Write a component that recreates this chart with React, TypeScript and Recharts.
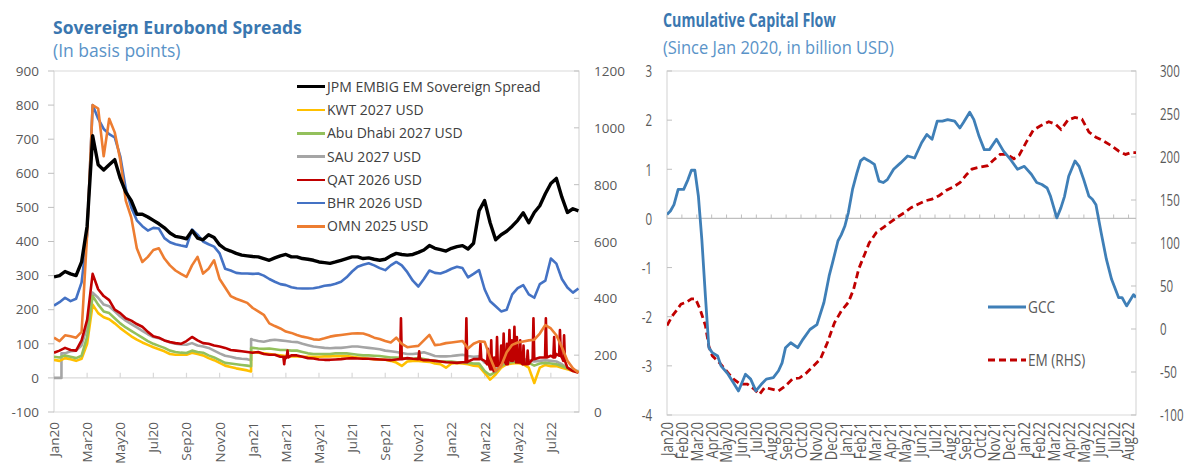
import React from 'react';
import { LineChart, Line, XAxis, YAxis, ReferenceLine, ReferenceArea, Legend } from 'recharts';

const FONT = '"Open Sans", "Noto Sans", sans-serif';
const FRAME = '#d9d9d9';
const TICKLINE = '#bfbfbf';
const TEXT_GREY = '#595959';
const TITLE_BLUE = '#3a77b0';
const SUB_BLUE = '#5a93c8';

// ---------------- Left panel: Sovereign Eurobond Spreads ----------------
// x = months since 1 Jan 2020, values sampled every third of a month (index / 3)
const spreadTickMonths = [0, 2, 4, 6, 8, 10, 12, 14, 16, 18, 20, 22, 24, 26, 28, 30];
const spreadTickLabels = ['Jan20', 'Mar20', 'May20', 'Jul20', 'Sep20', 'Nov20', 'Jan21', 'Mar21', 'May21', 'Jul21', 'Sep21', 'Nov21', 'Jan22', 'Mar22', 'May22', 'Jul22'];
const spreadLeftTicks = [-100, 0, 100, 200, 300, 400, 500, 600, 700, 800, 900];
const spreadRightTicks = [0, 200, 400, 600, 800, 1000, 1200];

const jpmEmbig = [
  296, 300, 312, 305, 300, 340, 445, 710, 625, 610,
  625, 640, 585, 545, 520, 480, 480, 472, 462, 452,
  440, 425, 415, 412, 408, 432, 410, 405, 420, 412,
  390, 378, 372, 365, 360, 358, 356, 355, 350, 345,
  352, 358, 362, 355, 355, 350, 348, 345, 340, 338,
  336, 340, 345, 350, 355, 355, 350, 352, 348, 345,
  348, 358, 365, 362, 360, 362, 368, 375, 388, 380,
  376, 372, 380, 385, 388, 378, 395, 490, 520, 455,
  405, 420, 430, 445, 462, 484, 455, 485, 505, 540,
  570, 585, 530, 485, 496, 490,
];
const bhr2026 = [
  212, 222, 235, 225, 232, 280, 420, 800, 760, 730,
  715, 705, 650, 555, 500, 462, 445, 432, 440, 438,
  410, 398, 392, 388, 385, 435, 420, 400, 392, 385,
  365, 320, 315, 308, 306, 306, 305, 306, 300, 290,
  282, 275, 272, 266, 263, 262, 262, 263, 266, 270,
  272, 276, 282, 295, 312, 326, 332, 336, 330, 322,
  316, 330, 340, 330, 310, 285, 268, 290, 315, 308,
  306, 312, 320, 326, 322, 295, 305, 316, 260, 225,
  210, 195, 200, 245, 263, 272, 245, 235, 275, 285,
  350, 335, 290, 265, 250, 262,
];
const omn2025 = [
  118, 108, 125, 122, 118, 135, 420, 800, 790, 650,
  760, 720, 640, 520, 470, 380, 340, 355, 375, 380,
  350, 330, 315, 305, 296, 330, 355, 306, 320, 345,
  290, 265, 240, 232, 226, 220, 205, 195, 185, 160,
  152, 145, 136, 132, 126, 121, 118, 113, 112, 116,
  121, 124, 126, 128, 130, 131, 130, 125, 118, 114,
  108, 104, 118, 100, 90, 92, 94, 110, 126, 96,
  98, 102, 104, 106, 108, 86, 100, 107, 106, 60,
  20, 35, 75, 97, 104, 107, 110, 112, 130, 155,
  145, 125, 90, 50, 28, 15,
];
const qat2026 = [
  74, 80, 88, 82, 80, 110, 170, 305, 260, 240,
  228, 200, 190, 175, 168, 158, 150, 135, 122, 118,
  110, 105, 102, 100, 108, 120, 110, 102, 100, 95,
  92, 88, 82, 80, 78, 76, 74, 76, 70, 68,
  68, 62, 58, 66, 66, 62, 58, 57, 54, 53,
  53, 54, 55, 57, 58, 57, 56, 56, 55, 54,
  53, 52, 54, 55, 58, 56, 62, 52, 52, 50,
  48, 46, 45, 44, 46, 48, 55, 70, 50, 40,
  45, 60, 70, 65, 60, 55, 50, 55, 60, 60,
  65, 70, 60, 30, 20, 15,
];
// [month, spike value, value just beside the spike]
const qatSpikes: [number, number, number][] = [
  [13.9, 40, 62], [14.1, 80, 60], [20.95, 175, 55], [22.05, 78, 55], [24.9, 175, 46],
  [25.75, 100, 55], [26.2, 85, 40], [26.4, 110, 25], [26.55, 20, 60], [26.75, 120, 35],
  [27.0, 95, 45], [27.15, 130, 50], [27.35, 100, 40], [27.5, 140, 55], [27.65, 110, 50],
  [27.8, 150, 60], [27.95, 120, 45], [28.15, 110, 45], [28.35, 95, 40], [28.6, 80, 40],
  [28.95, 175, 55], [29.7, 175, 60], [30.2, 120, 60], [30.55, 140, 65], [30.8, 125, 50],
];
const sau2027 = [
  0, 0, 72, 78, 80, 95, 150, 250, 235, 215,
  210, 195, 180, 168, 158, 148, 138, 128, 120, 116,
  110, 104, 100, 98, 97, 102, 95, 92, 88, 80,
  72, 65, 62, 58, 56, 55, 112, 108, 106, 110,
  112, 110, 108, 106, 105, 100, 96, 92, 90, 88,
  87, 88, 88, 90, 92, 92, 90, 88, 86, 84,
  80, 78, 76, 73, 70, 70, 72, 75, 70, 64,
  63, 63, 64, 66, 68, 64, 62, 63, 45, 40,
  25, 35, 50, 52, 54, 55, 52, 48, 50, 52,
  50, 48, 40, 30, 22, 20,
];
const sauJumps: [number, number, number][] = [[0.45, 0, 72], [11.9, 52, 114]];
const abuDhabi2027 = [
  62, 60, 66, 62, 58, 65, 120, 240, 215, 195,
  190, 175, 160, 148, 138, 128, 118, 108, 100, 94,
  88, 80, 76, 74, 73, 80, 76, 74, 66, 60,
  52, 44, 42, 40, 38, 36, 88, 86, 85, 86,
  84, 82, 82, 80, 80, 76, 72, 70, 70, 70,
  70, 72, 72, 72, 70, 68, 66, 66, 65, 64,
  62, 60, 60, 58, 56, 56, 58, 55, 52, 50,
  48, 48, 48, 46, 46, 44, 42, 42, 20, 8,
  18, 35, 44, 46, 48, 46, 44, 36, 42, 44,
  42, 40, 35, 28, 22, 18,
];
const abuDhabiJumps: [number, number, number][] = [[11.9, 34, 88]];
const kwt2027 = [
  53, 50, 58, 55, 50, 56, 100, 215, 190, 178,
  172, 160, 146, 134, 122, 112, 104, 97, 90, 84,
  78, 70, 68, 68, 68, 74, 70, 66, 58, 52,
  44, 36, 32, 28, 25, 22, 76, 74, 72, 70,
  68, 66, 64, 63, 63, 62, 62, 62, 62, 63,
  63, 64, 64, 64, 62, 60, 58, 56, 55, 54,
  53, 50, 45, 35, 48, 50, 50, 48, 47, 42,
  40, 30, 42, 44, 42, 40, 36, 34, 15, -5,
  10, 30, 40, 42, 44, 40, 30, -15, 30, 38,
  34, 35, 30, 25, 20, 18,
];
const kwtJumps: [number, number, number][] = [[11.9, 19, 76]];

type Pt = { x: number; v: number };

function dekadSeries(values: number[], jumps: [number, number, number][] = []): Pt[] {
  const pts: Pt[] = values.map((v, i) => ({ x: i / 3, v }));
  jumps.forEach(([m, before, after]) => {
    pts.push({ x: m, v: before }, { x: m + 0.001, v: after });
  });
  return pts.sort((a, b) => a.x - b.x);
}

function spikySeries(values: number[], spikes: [number, number, number][]): Pt[] {
  const base = values
    .map((v, i) => ({ x: i / 3, v }))
    .filter((p) => !spikes.some(([m]) => Math.abs(p.x - m) < 0.09));
  const extra = spikes.flatMap(([m, peak, side]) => [
    { x: m - 0.05, v: side },
    { x: m, v: peak },
    { x: m + 0.05, v: side },
  ]);
  return [...base, ...extra].sort((a, b) => a.x - b.x);
}

const spreadData: Record<string, Pt[]> = {
  jpm: dekadSeries(jpmEmbig),
  kwt: dekadSeries(kwt2027, kwtJumps),
  adh: dekadSeries(abuDhabi2027, abuDhabiJumps),
  sau: dekadSeries(sau2027, sauJumps),
  qat: spikySeries(qat2026, qatSpikes),
  bhr: dekadSeries(bhr2026),
  omn: dekadSeries(omn2025),
};

const spreadLegendOrder = [
  { key: 'jpm', name: 'JPM EMBIG EM Sovereign Spread', color: '#000000', width: 3.4 },
  { key: 'kwt', name: 'KWT 2027 USD', color: '#ffc000', width: 2.6 },
  { key: 'adh', name: 'Abu Dhabi 2027 USD', color: '#93c05c', width: 2.6 },
  { key: 'sau', name: 'SAU 2027 USD', color: '#a5a5a5', width: 2.6 },
  { key: 'qat', name: 'QAT 2026 USD', color: '#c00000', width: 2.6 },
  { key: 'bhr', name: 'BHR 2026 USD', color: '#4472c4', width: 2.6 },
  { key: 'omn', name: 'OMN 2025 USD', color: '#ed7d31', width: 2.6 },
];
const spreadDrawOrder = ['sau', 'kwt', 'adh', 'qat', 'bhr', 'omn', 'jpm'];

// ---------------- Right panel: Cumulative Capital Flow ----------------
const flowTickMonths = Array.from({ length: 32 }, (_, i) => i);
const flowTickLabels = [
  'Jan20', 'Feb20', 'Mar20', 'Apr20', 'May20', 'Jun20', 'Jul20', 'Aug20', 'Sep20', 'Oct20', 'Nov20', 'Dec20',
  'Jan21', 'Feb21', 'Mar21', 'Apr21', 'May21', 'Jun21', 'Jul21', 'Aug21', 'Sep21', 'Oct21', 'Nov21', 'Dec21',
  'Jan22', 'Feb22', 'Mar22', 'Apr22', 'May22', 'Jun22', 'Jul22', 'Aug22',
];
const gccTicks = [-4, -3, -2, -1, 0, 1, 2, 3];
const emTicks = [-100, -50, 0, 50, 100, 150, 200, 250, 300];

// [month since Jan 2020, cumulative flow]
const gccFlow: [number, number][] = [
  [0, 0.08], [0.23, 0.15], [0.47, 0.28], [0.75, 0.59], [1.12, 0.59], [1.41, 0.79], [1.64, 0.98], [1.87, 0.98],
  [2.11, 0.45], [2.34, -0.43], [2.58, -1.58], [2.81, -2.63], [3.04, -2.73], [3.4, -2.8], [3.63, -3.0], [4.1, -3.17],
  [4.45, -3.34], [4.8, -3.51], [5.04, -3.34], [5.27, -3.17], [5.62, -3.27], [5.97, -3.51], [6.32, -3.38], [6.67, -3.27],
  [7.14, -3.24], [7.49, -3.1], [7.73, -2.94], [7.96, -2.63], [8.31, -2.53], [8.78, -2.63], [9.13, -2.46], [9.6, -2.26],
  [10.07, -2.16], [10.54, -1.71], [10.89, -1.17], [11.12, -0.9], [11.48, -0.46], [11.71, -0.33], [11.94, -0.16], [12.18, 0.12],
  [12.46, 0.59], [12.76, 0.93], [13.0, 1.17], [13.23, 1.23], [13.58, 1.17], [13.93, 1.1], [14.24, 0.76], [14.52, 0.73],
  [14.8, 0.79], [15.22, 1.0], [15.69, 1.13], [16.16, 1.27], [16.63, 1.23], [17.1, 1.54], [17.45, 1.71], [17.8, 1.61],
  [18.15, 1.98], [18.5, 1.98], [18.85, 2.01], [19.32, 1.98], [19.67, 1.84], [19.91, 1.95], [20.33, 2.16], [20.61, 2.01],
  [20.96, 1.67], [21.31, 1.4], [21.66, 1.4], [22.13, 1.61], [22.6, 1.37], [23.07, 1.2], [23.54, 1.0], [24.0, 1.06],
  [24.47, 0.9], [24.83, 0.73], [25.18, 0.69], [25.53, 0.62], [25.76, 0.45], [26.18, 0.01], [26.46, 0.22], [26.7, 0.45],
  [26.98, 0.86], [27.4, 1.17], [27.68, 1.06], [27.99, 0.79], [28.34, 0.45], [28.57, 0.39], [28.81, 0.28], [29.16, -0.29],
  [29.51, -0.83], [29.86, -1.24], [30.33, -1.61], [30.56, -1.61], [30.87, -1.78], [31.34, -1.55], [31.5, -1.61],
];
const emFlow: [number, number][] = [
  [0, 4], [0.35, 15], [0.7, 23], [0.94, 29], [1.29, 31], [1.64, 35], [1.92, 35], [2.22, 23],
  [2.58, 4], [2.81, -20], [3.04, -31], [3.51, -39], [4.1, -51], [4.45, -58], [4.92, -64], [5.39, -64],
  [5.86, -70], [6.21, -76], [6.56, -68], [7.03, -70], [7.49, -72], [7.96, -66], [8.43, -58], [8.9, -57],
  [9.37, -51], [9.84, -43], [10.3, -35], [10.77, -16], [11.24, 7], [11.71, 21], [12.18, 31], [12.53, 46],
  [12.88, 70], [13.23, 85], [13.58, 100], [14.05, 112], [14.52, 118], [14.99, 124], [15.46, 130], [15.93, 135],
  [16.39, 141], [16.86, 145], [17.33, 149], [17.8, 151], [18.27, 155], [18.74, 161], [19.2, 165], [19.67, 170],
  [20.14, 180], [20.49, 186], [20.96, 188], [21.55, 190], [21.9, 196], [22.37, 203], [22.83, 203], [23.3, 198],
  [23.65, 202], [24.12, 217], [24.59, 231], [25.06, 236], [25.64, 241], [26.11, 238], [26.46, 232], [26.93, 243],
  [27.4, 246], [27.87, 244], [28.34, 229], [28.81, 223], [29.28, 219], [29.86, 213], [30.33, 207], [30.8, 203],
  [31.15, 205], [31.5, 205],
];
const gccData: Pt[] = gccFlow.map(([x, v]) => ({ x, v }));
const emData: Pt[] = emFlow.map(([x, v]) => ({ x, v }));

// ---------------- tick components ----------------
const rotatedTick = (labels: string[], months: number[], fontSize: number, sx: number) => (props: any) => {
  const { x, y, payload } = props;
  const label = labels[months.indexOf(payload.value)] ?? '';
  return (
    <text
      transform={`translate(${x},${y}) rotate(-90) scale(${sx},1)`}
      textAnchor="end"
      dominantBaseline="central"
      fontSize={fontSize}
      fill={TEXT_GREY}
      fontFamily={FONT}
    >
      {label}
    </text>
  );
};

const insideYTick = (side: 'left' | 'right', margin: number, len: number, fontSize: number, sx: number) => (props: any) => {
  const { x, y, payload } = props;
  const axisX = side === 'left' ? x + margin : x - margin;
  const inner = side === 'left' ? axisX + len : axisX - len;
  return (
    <g>
      <line x1={axisX} x2={inner} y1={y} y2={y} stroke={TICKLINE} />
      <text
        transform={`translate(${x},${y}) scale(${sx},1)`}
        textAnchor={side === 'left' ? 'end' : 'start'}
        dominantBaseline="central"
        fontSize={fontSize}
        fill={TEXT_GREY}
        fontFamily={FONT}
      >
        {String(payload.value)}
      </text>
    </g>
  );
};

const spreadLegend = () => (
  <div style={{ fontFamily: FONT, fontSize: 14, color: '#404040', lineHeight: '18px' }}>
    {spreadLegendOrder.map((s) => (
      <div key={s.key} style={{ display: 'flex', alignItems: 'center', height: 23.3, whiteSpace: 'nowrap' }}>
        <span style={{ display: 'inline-block', width: 28, height: s.width, background: s.color, marginRight: 2 }} />
        <span>{s.name}</span>
      </div>
    ))}
  </div>
);

const flowLegend = () => (
  <div style={{ fontFamily: FONT, fontSize: 16, color: '#595959', lineHeight: '20px' }}>
    <div style={{ display: 'flex', alignItems: 'center', height: 22, whiteSpace: 'nowrap' }}>
      <svg width={38} height={6} style={{ marginRight: 2 }}>
        <line x1={0} x2={38} y1={3} y2={3} stroke="#3f7fb7" strokeWidth={2.8} />
      </svg>
      <span style={{ display: 'inline-block', transform: 'scaleX(0.85)', transformOrigin: '0 50%' }}>GCC</span>
    </div>
    <div style={{ display: 'flex', alignItems: 'center', height: 22, marginTop: 31, whiteSpace: 'nowrap' }}>
      <svg width={38} height={6} style={{ marginRight: 2 }}>
        <line x1={0} x2={38} y1={3} y2={3} stroke="#c00000" strokeWidth={2.8} strokeDasharray="7 4" />
      </svg>
      <span style={{ display: 'inline-block', transform: 'scaleX(0.85)', transformOrigin: '0 50%' }}>EM (RHS)</span>
    </div>
  </div>
);

const SPREAD_XMAX = 31.7;
const FLOW_XMAX = 31.5;

function SpreadChart() {
  const byKey: Record<string, (typeof spreadLegendOrder)[number]> = {};
  spreadLegendOrder.forEach((s) => (byKey[s.key] = s));
  return (
    <LineChart width={630} height={468} margin={{ top: 71, right: 0, bottom: 0, left: 0 }}>
      <XAxis
        type="number"
        dataKey="x"
        domain={[0, SPREAD_XMAX]}
        ticks={spreadTickMonths}
        interval={0}
        allowDataOverflow
        height={56}
        axisLine={false}
        tickLine={false}
        tickSize={0}
        tickMargin={10}
        tick={rotatedTick(spreadTickLabels, spreadTickMonths, 13.5, 1)}
      />
      <YAxis
        yAxisId="l"
        domain={[-100, 900]}
        ticks={spreadLeftTicks}
        interval={0}
        allowDataOverflow
        width={54}
        axisLine={false}
        tickSize={6}
        tickMargin={9}
        tickLine={{ stroke: TICKLINE }}
        tick={{ fill: TEXT_GREY, fontSize: 13.5, fontFamily: FONT }}
      />
      <YAxis
        yAxisId="r"
        orientation="right"
        domain={[0, 1200]}
        ticks={spreadRightTicks}
        interval={0}
        allowDataOverflow
        width={51}
        axisLine={false}
        tickLine={false}
        tickSize={0}
        tickMargin={15}
        tick={insideYTick('right', 15, 5, 13.5, 1)}
      />
      <ReferenceArea yAxisId="l" x1={0} x2={SPREAD_XMAX} y1={-100} y2={900} fill="none" fillOpacity={0} stroke={FRAME} strokeWidth={1.2} />
      <ReferenceLine yAxisId="l" y={0} stroke={FRAME} strokeWidth={1.2} />
      {spreadTickMonths.map((m) => (
        <ReferenceLine key={m} yAxisId="l" segment={[{ x: m, y: 0 }, { x: m, y: 15 }]} stroke={FRAME} strokeWidth={1.2} />
      ))}
      {spreadDrawOrder.map((k) => (
        <Line
          key={k}
          yAxisId="l"
          data={spreadData[k]}
          dataKey="v"
          name={byKey[k].name}
          stroke={byKey[k].color}
          strokeWidth={byKey[k].width}
          strokeLinejoin="round"
          dot={false}
          activeDot={false}
          type="linear"
          isAnimationActive={false}
        />
      ))}
      <Legend layout="vertical" align="center" verticalAlign="middle" content={spreadLegend} wrapperStyle={{ left: 297, top: 75, width: 270, height: 170 }} />
    </LineChart>
  );
}

function FlowChart() {
  return (
    <LineChart width={584} height={468} margin={{ top: 71, right: 0, bottom: 0, left: 0 }}>
      <XAxis
        type="number"
        dataKey="x"
        domain={[0, FLOW_XMAX]}
        ticks={flowTickMonths}
        interval={0}
        allowDataOverflow
        height={53}
        axisLine={false}
        tickLine={false}
        tickSize={0}
        tickMargin={7}
        tick={rotatedTick(flowTickLabels, flowTickMonths, 15.5, 0.85)}
      />
      <YAxis
        yAxisId="gcc"
        domain={[-4, 3]}
        ticks={gccTicks}
        interval={0}
        allowDataOverflow
        width={67}
        axisLine={false}
        tickLine={false}
        tickSize={0}
        tickMargin={15}
        tick={insideYTick('left', 15, 5, 16, 0.72)}
      />
      <YAxis
        yAxisId="em"
        orientation="right"
        domain={[-100, 300]}
        ticks={emTicks}
        interval={0}
        allowDataOverflow
        width={48}
        axisLine={false}
        tickLine={false}
        tickSize={0}
        tickMargin={24}
        tick={insideYTick('right', 24, 5, 16, 0.72)}
      />
      <ReferenceArea yAxisId="gcc" x1={0} x2={FLOW_XMAX} y1={-4} y2={3} fill="none" fillOpacity={0} stroke={FRAME} strokeWidth={1.2} />
      <ReferenceLine yAxisId="gcc" y={0} stroke={TICKLINE} strokeWidth={1.2} />
      {flowTickMonths.map((m) => (
        <ReferenceLine key={m} yAxisId="gcc" segment={[{ x: m, y: 0 }, { x: m, y: 0.08 }]} stroke={TICKLINE} strokeWidth={1} />
      ))}
      <Line yAxisId="em" data={emData} dataKey="v" name="EM (RHS)" stroke="#c00000" strokeWidth={2.8} strokeDasharray="7 4" dot={false} activeDot={false} type="linear" isAnimationActive={false} />
      <Line yAxisId="gcc" data={gccData} dataKey="v" name="GCC" stroke="#3f7fb7" strokeWidth={2.8} strokeLinejoin="round" dot={false} activeDot={false} type="linear" isAnimationActive={false} />
      <Legend layout="vertical" align="center" verticalAlign="middle" content={flowLegend} wrapperStyle={{ left: 388, top: 296, width: 150, height: 80 }} />
    </LineChart>
  );
}

export default function App() {
  return (
    <div style={{ position: 'absolute', left: 0, top: 0, width: 1184, height: 468, background: '#ffffff', overflow: 'hidden', fontFamily: FONT }}>
      <div style={{ position: 'absolute', left: 53, top: 16, fontSize: 17.5, lineHeight: '22px', fontWeight: 700, color: TITLE_BLUE, whiteSpace: 'nowrap' }}>
        Sovereign Eurobond Spreads
      </div>
      <div style={{ position: 'absolute', left: 53, top: 39, fontSize: 17.5, lineHeight: '22px', color: SUB_BLUE, whiteSpace: 'nowrap' }}>
        (In basis points)
      </div>
      <div style={{ position: 'absolute', left: 0, top: 0 }}>
        <SpreadChart />
      </div>
      <div style={{ position: 'absolute', left: 600, top: 0 }}>
        <FlowChart />
      </div>
      <div style={{ position: 'absolute', left: 663, top: 8, fontSize: 19, lineHeight: '24px', fontWeight: 700, color: TITLE_BLUE, whiteSpace: 'nowrap', transform: 'scaleX(0.75)', transformOrigin: '0 50%' }}>
        Cumulative Capital Flow
      </div>
      <div style={{ position: 'absolute', left: 663, top: 35, fontSize: 17.5, lineHeight: '24px', color: SUB_BLUE, whiteSpace: 'nowrap', transform: 'scaleX(0.94)', transformOrigin: '0 50%' }}>
        (Since Jan 2020, in billion USD)
      </div>
    </div>
  );
}
